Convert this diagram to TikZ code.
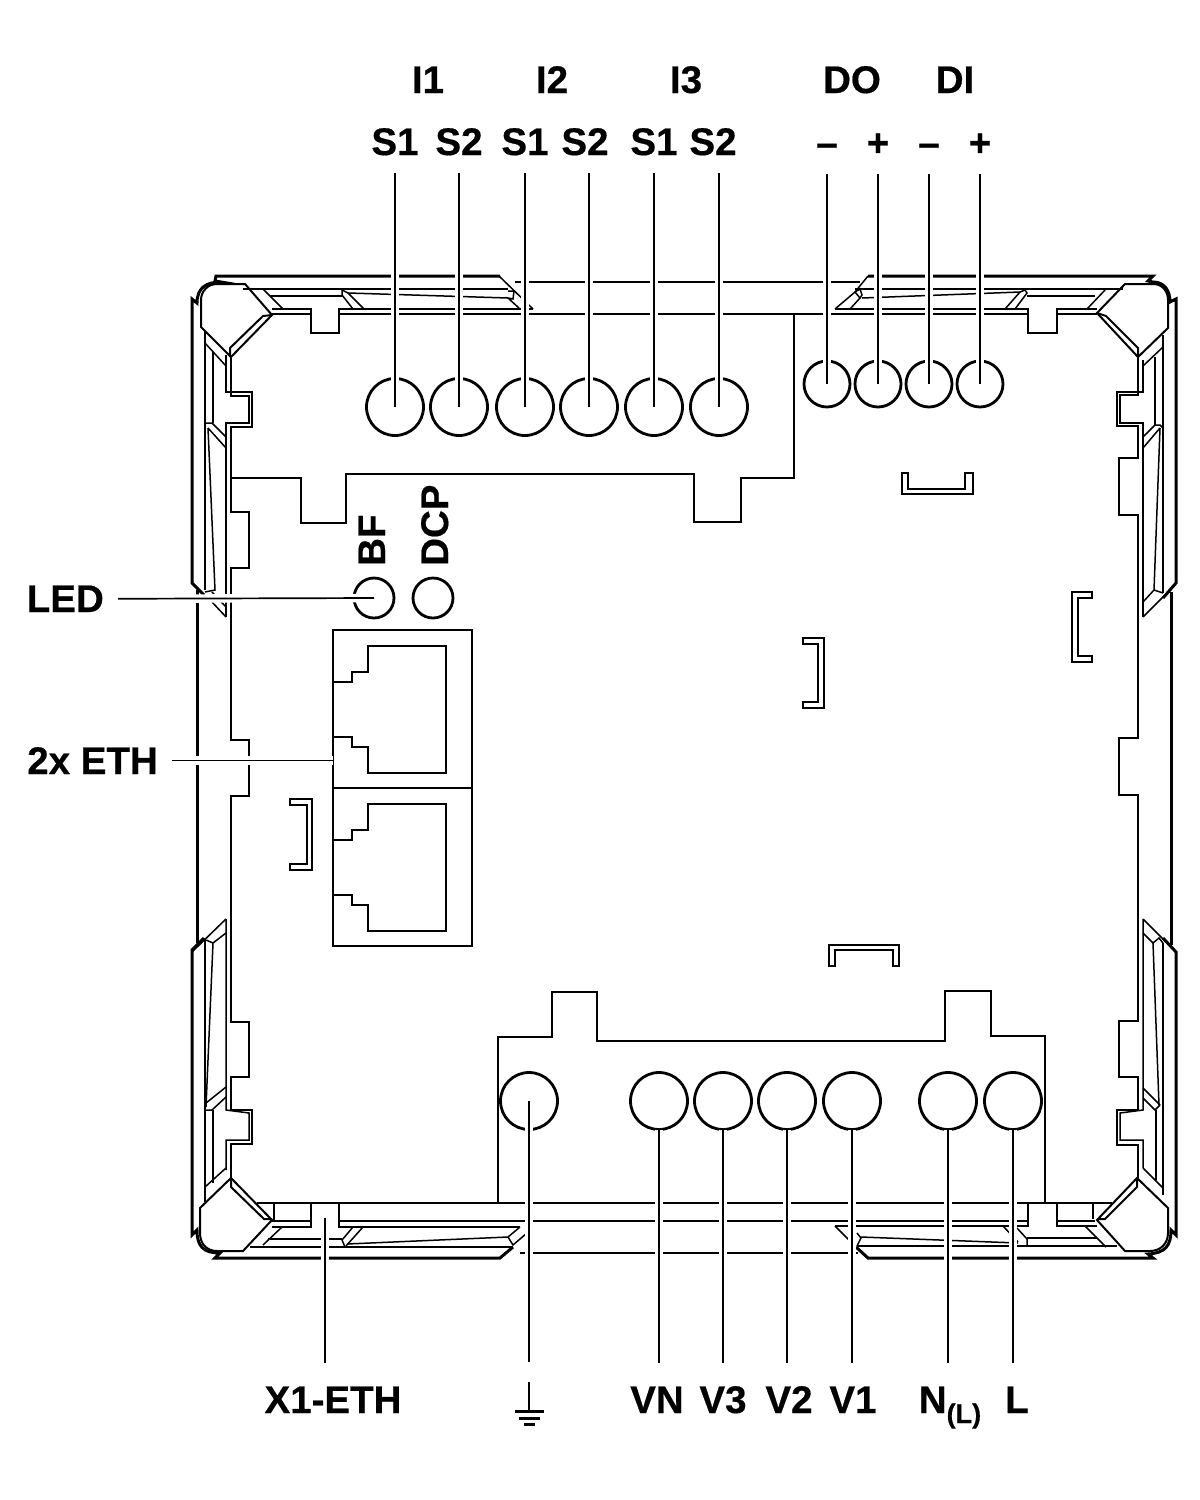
\documentclass[tikz,border=0pt]{standalone}
\usepackage{fontspec}
\setmainfont[BoldFeatures={FakeBold=0.5}]{Liberation Sans}
\tikzstyle{wall} = [draw,line width=1.5pt,line join=miter]
\tikzstyle{heavy} = [draw,line width=3pt,line join=miter]
\tikzstyle{block} = [draw,line width=2pt,line join=miter]
\tikzstyle{rim} = [draw,line width=2.6pt]
\tikzstyle{terminal}=[circle, draw
,line width=2.8pt
,inner sep=0pt
,outer sep=0pt
,minimum size=57pt
]
\tikzstyle{small terminal} = [terminal, minimum size=46pt]
\tikzstyle{led} = [terminal, minimum size=40pt]
\tikzstyle{port} = [rectangle, draw, line width=2pt, inner sep=0pt, outer sep=0pt, minimum width=139pt, minimum height=158pt]
\tikzstyle{caption} = [font=\bfseries\fontsize{38.5}{40}\selectfont, inner sep=0pt]
\tikzstyle{top caption} = [caption, anchor=base, text depth=18pt]
\tikzstyle{bottom caption} = [caption, anchor=base, text height=50pt]
\tikzstyle{side caption} = [caption, anchor=base east, inner xsep=14pt]
\tikzstyle{leader} = [draw,line width=1.7pt,preaction={draw=white,line width=8.5pt}]
\begin{document}
\begin{tikzpicture}[x=1pt,y=-1pt]
    \useasboundingbox (0,0) rectangle (1200,1500);
    % First we draw the housing
    \path[heavy] (500,276) -- (216,276) -- (215,281) -- (221,282) .. controls (206,282) and (197,288) .. (197,303) -- (192,299) -- (192,583) -- (204,595);
    \path[heavy] (197,590) -- (197,943);
    \path[heavy] (204,938) -- (192,950) -- (192,1235) -- (197,1230) .. controls (197,1246) and (203,1253) .. (220,1253) -- (215,1258) -- (500,1258) -- (513,1247);
    \path[heavy] (868,276) -- (1153,276) -- (1148,281) -- (1153,282) .. controls (1164,282) and (1170,290) .. (1170,302) -- (1176,299) -- (1176,583) -- (1163,598);
    \path[heavy] (1171,592) -- (1171,945);
    \path[heavy] (1163,938) -- (1176,952) -- (1176,1235) -- (1171,1230) .. controls (1171,1246) and (1165,1253) .. (1148,1254) -- (1153,1258) -- (868,1258) -- (856,1247);
    \path[rim] (515,282) -- (860,282);
    \path[rim] (520,1253) -- (858,1253);

    % The four corners
    \path[block] (245,284) -- (217,284) .. controls (207,284) and (201,292) .. (201,300) -- (201,327) -- (231,357) -- (272,315) -- cycle;
    \path[block] (230,357) -- (230,348) -- (263,316) -- (272,315);
    \path[block] (1125,284) -- (1153,284) .. controls (1163,284) and (1168,292) .. (1168,300) -- (1168,328) -- (1138,357) -- (1097,313) -- cycle;
    \path[block] (1138,357) -- (1138,348) -- (1106,316) -- (1097,313);
    \path[block] (231,1178) -- (200,1208) -- (200,1233) .. controls (200,1244) and (207,1251) .. (217,1251) -- (243,1251) -- (272,1220) -- cycle;
    \path[block] (231,1178) -- (231,1187) -- (264,1219) -- (272,1219);
    \path[block] (1137,1178) -- (1168,1208) -- (1168,1233) .. controls (1168,1244) and (1160,1251) .. (1150,1251) -- (1125,1251) -- (1097,1220) -- cycle;
    \path[block] (1137,1178) -- (1137,1187) -- (1105,1219) -- (1097,1219);

    % Top rim
    \path[wall] (243,289) -- (508,289);
    \path[wall] (855,289) -- (1123,289);
    \path[wall] (270,296) -- (342,296);
    \path[wall] (1027,296) -- (1095,296);
    \path[wall] (263,289) -- (283,309);
    \path[wall] (1105,290) -- (1087,309);
    \path[wall] (272,309) -- (311,309) -- (311,333) -- (339,333) -- (339,309) -- (533,309);
    \path[wall] (835,309) -- (1028,309) -- (1028,333) -- (1057,333) -- (1057,309) -- (1097,309);
    \path[wall] (272,314) -- (311,314);
    \path[wall] (339,314) -- (1028,314);
    \path[wall] (1057,314) -- (1097,314);
    \path[wall] (342,290) -- (342,295) -- (353,309);
    \path[wall] (342,290) -- (348,293) -- (364,309);
    \path[wall] (348,293) -- (508,298);
    \path[wall] (508,291) -- (514,291) -- (513,299) -- (508,298) -- (520,309);
    \path[wall] (499,276) -- (533,309);
    \path[wall] (868,276) -- (855,292) -- (835,309);
    \path[wall] (855,292) -- (860,289) -- (862,295) -- (860,298) -- (855,292);
    \path[wall] (860,298) -- (850,309);
    \path[wall] (862,298) -- (1020,292) -- (1025,290) -- (1027,293) -- (1015,309);
    \path[wall] (1020,292) -- (1005,309);

    % Bottom rim
    \path[wall] (257,1203) -- (1112,1203);
    \path[wall] (274,1203) -- (274,1220);
    \path[wall] (272,1221) -- (311,1221);
    \path[wall] (272,1227) -- (311,1227) -- (311,1203);
    \path[wall] (339,1203) -- (339,1227) -- (520,1227);
    \path[wall] (339,1221) -- (1028,1221);
    \path[wall] (835,1226) -- (1028,1226) -- (1028,1203);
    \path[wall] (1057,1203) -- (1057,1226) -- (1097,1226);
    \path[wall] (1057,1221) -- (1095,1221);
    \path[wall] (1093,1203) -- (1093,1219);
    \path[wall] (268,1239) -- (342,1239);
    \path[wall] (250,1247) -- (513,1247);
    \path[wall] (263,1245) -- (282,1227);
    \path[wall] (342,1240) -- (353,1227);
    \path[wall] (346,1246) -- (363,1227);
    \path[wall] (342,1240) -- (345,1247);
    \path[wall] (347,1244) -- (508,1237) -- (513,1245) -- (527,1233);
    \path[wall] (508,1237) -- (520,1227);
    \path[wall] (857,1246) -- (1117,1246);
    \path[wall] (1027,1238) -- (1097,1238);
    \path[wall] (835,1226) -- (849,1240);
    \path[wall] (857,1233) -- (861,1238) -- (857,1246);
    \path[wall] (861,1237) -- (1018,1243);
    \path[wall] (1003,1226) -- (1018,1242);
    \path[wall] (1017,1228) -- (1027,1239) -- (1027,1246);
    \path[wall] (1085,1226) -- (1106,1247);

    % Left wall
    \path[wall] (205,332) -- (205,590);
    \path[wall] (205,343) -- (226,366);
    \path[wall] (213,352) -- (213,423);
    \path[wall] (226,355) -- (226,392) -- (252,392) -- (252,427) -- (231,427) -- (231,512) -- (249,512) -- (249,568) -- (231,568) -- (231,740) -- (249,740) -- (249,796) -- (231,796) -- (231,1022) -- (249,1022) -- (249,1077) -- (231,1077) -- (231,1110) -- (252,1110) -- (252,1144) -- (231,1144) -- (231,1178);
    \path[wall] (231,357) -- (231,396) -- (249,396) -- (249,423) -- (226,423) -- (226,617);
    \path[wall] (205,423) -- (212,423) -- (226,437);
    \path[wall] (208,428) -- (226,448);
    \path[wall] (208,428) -- (215,590) -- (205,592);
    \path[wall] (212,592) -- (226,607);
    \path[wall] (212,602) -- (226,617);
    \path[wall] (226,919) -- (192,952);
    \path[wall] (205,938) -- (205,1202);
    \path[wall] (226,933) -- (213,943) -- (206,1107);
    \path[wall] (206,940) -- (213,943);
    \path[wall] (206,1103) -- (226,1087);
    \path[wall] (206,1110) -- (212,1110) -- (226,1097);
    \path[wall] (213,1110) -- (213,1183);
    \path[wall] (226,919) -- (226,1110) -- (249,1113) -- (249,1140) -- (226,1140) -- (226,1170);
    \path[wall] (205,1187) -- (226,1168);

    % Right wall
    \path[wall] (1138,357) -- (1138,395) -- (1120,395) -- (1120,423) -- (1143,423) -- (1143,617);
    \path[wall] (1143,360) -- (1143,392) -- (1117,392) -- (1117,426) -- (1138,426) -- (1138,458) -- (1119,458) -- (1119,515) -- (1138,515) -- (1138,738) -- (1119,738) -- (1119,795) -- (1138,795) -- (1138,1021) -- (1119,1021) -- (1119,1077) -- (1138,1077) -- (1138,1110) -- (1117,1110) -- (1117,1145) -- (1138,1145) -- (1138,1178);
    \path[wall] (1163,335) -- (1163,593);
    \path[wall] (1143,366) -- (1163,347);
    \path[wall] (1155,357) -- (1155,425);
    \path[wall] (1143,448) -- (1160,428);
    \path[wall] (1143,437) -- (1155,425) -- (1160,425) -- (1163,428);
    \path[wall] (1160,428) -- (1154,590) -- (1163,593);
    \path[wall] (1143,602) -- (1154,590);
    \path[wall] (1143,617) -- (1163,597);
    \path[wall] (1143,919) -- (1143,1110) -- (1120,1113) -- (1120,1140) -- (1143,1140) -- (1143,1168);
    \path[wall] (1143,919) -- (1176,952);
    \path[wall] (1143,933) -- (1153,943) -- (1159,938) -- (1163,943);
    \path[wall] (1153,943) -- (1159,1105);
    \path[wall] (1143,1088) -- (1160,1105);
    \path[wall] (1143,1098) -- (1155,1110) -- (1160,1105);
    \path[wall] (1156,1110) -- (1156,1180);
    \path[wall] (1163,943) -- (1163,1195);
    \path[wall] (1143,1168) -- (1163,1188);

    % Outline of the two terminal blocks
    \path[block] (231,478) -- (301,478) -- (301,523) -- (346,523) -- (346,474) -- (694,474) -- (694,522) -- (741,522) -- (741,478) -- (794,478) -- (794,314);
    \path[block] (498,1203) -- (498,1037) -- (552,1037) -- (552,992) -- (597,992) -- (597,1041) -- (945,1041) -- (945,991) -- (991,991) -- (991,1036) -- (1045,1036) -- (1045,1203);

    % The small clips
    \path[block] (902,473) -- (902,494) -- (973,494) -- (973,473) -- (965,473) -- (965,489) -- (908,489) -- (908,473) -- cycle;
    \path[block] (1092,592) -- (1072,592) -- (1072,662) -- (1092,662) -- (1092,656) -- (1078,656) -- (1078,598) -- (1092,598) -- cycle;
    \path[block] (803,638) -- (824,638) -- (824,708) -- (803,708) -- (803,702) -- (818,702) -- (818,644) -- (803,644) -- cycle;
    \path[block] (290,799) -- (312,799) -- (312,870) -- (290,870) -- (290,864) -- (307,864) -- (307,805) -- (290,805) -- cycle;
    \path[block] (829,945) -- (899,945) -- (899,966) -- (893,966) -- (893,950) -- (835,950) -- (835,966) -- (829,966) -- cycle;

    % The ethernet ports
    \foreach \pos/\name in {{(402.5,709)/ETHa}, {(402.5,867)/ETHb}}
        \node[port] (\name) at \pos {};
    \foreach \dy in {0,158}
        \path[block,shift={(0,\dy)}] (333,682) -- (352,682) -- (352,672) -- (368,672) -- (368,646) -- (446,646) -- (446,773) -- (368,773) -- (368,747) -- (352,747) -- (352,737) -- (333,737);

    % Then the terminals
    \foreach \pos/\name in {{(395,407)/Ta}, {(459,407)/Tb}, {(525,407)/Tc}, {(589,407)/Td}, {(654,407)/Te}, {(719,407)/Tf},
        {(529,1101)/PE}, {(659,1101)/VN}, {(723,1101)/VC}, {(787,1101)/VB}, {(852,1101)/VA}, {(948,1101)/NL}, {(1013,1101)/LL}}
        \node[terminal] (\name) at \pos {};
    \foreach \pos/\name in {{(827,384)/DOm}, {(878,384)/DOp}, {(929,384)/DIm}, {(980,384)/DIp}}
        \node[small terminal] (\name) at \pos {};
    \foreach \pos/\name in {{(374,598)/BF}, {(433,598)/DCP}}
        \node[led] (\name) at \pos {};

    % Labels
    \foreach \pos/\name/\txt in {{(428,93)/gIa/I1}, {(552,93)/gIb/I2}, {(686,93)/gIc/I3}, {(852,93)/gDO/DO}, {(955,93)/gDI/DI}}
        \node[caption,anchor=base] (\name) at \pos {\txt};
    \foreach \pos/\name/\txt in {{(395,155)/lTa/S1}, {(459,155)/lTb/S2}, {(525,155)/lTc/S1}, {(585,155)/lTd/S2}, {(654,155)/lTe/S1}, {(713,155)/lTf/S2},
        {(827,156)/lDOm/\textendash}, {(878,156)/lDOp/+}, {(929,156)/lDIm/\textendash}, {(980,156)/lDIp/+}}
        \node[top caption] (\name) at \pos {\txt};
    \foreach \pos/\name/\txt in {{(657,1413)/lVN/VN}, {(723,1413)/lVC/V3}, {(789,1413)/lVB/V2}, {(853,1413)/lVA/V1}, {(1017,1413)/lLL/L}, {(333,1413)/lXa/X1-ETH}}
        \node[bottom caption] (\name) at \pos {\txt};
    \node[bottom caption] (lNL) at (950,1413) {N\raisebox{-10pt}{\fontsize{27}{27}\selectfont (L)}};
    \node[side caption] (lLED) at (118,612) {LED};
    \node[side caption] (lETH) at (172,774) {2x ETH};
    \node[caption,rotate=90,anchor=base west] (lBF) at (385,566) {BF};
    \node[caption,rotate=90,anchor=base west] (lDCP) at (448,566) {DCP};

    % Earth symbol
    \coordinate (gnd) at (529,1362);
    \draw[line width=2.6pt] (529,1382) -- (529,1411);
    \draw[line width=3pt] (515,1411) -- (544,1411);
    \draw[line width=3pt] (519,1418) -- (540,1418);
    \draw[line width=3pt] (524,1424) -- (535,1424);

    % Connect labels with terminals
    \coordinate (Xa) at (325,1218);
    \foreach \source/ \dest in {lTa/Ta, lTb/Tb, lTc/Tc, lTd/Td, lTe/Te, lTf/Tf, lDOm/DOm, lDOp/DOp, lDIm/DIm, lDIp/DIp}
        \path[leader] (\source.south -| \dest.center) -- (\dest.center);
    \foreach \source/ \dest in {lVN/VN, lVC/VC, lVB/VB, lVA/VA, lNL/NL, lLL/LL, lXa/Xa}
        \path[leader] (\source.north -| \dest) -- (\dest);
    \path[leader] (gnd) -- (PE.center);
    \path[leader] (lLED.east) -- (BF.center);
    \path[leader] (lETH.east) -- (lETH.east -| ETHa.west);
\end{tikzpicture}
\end{document}
